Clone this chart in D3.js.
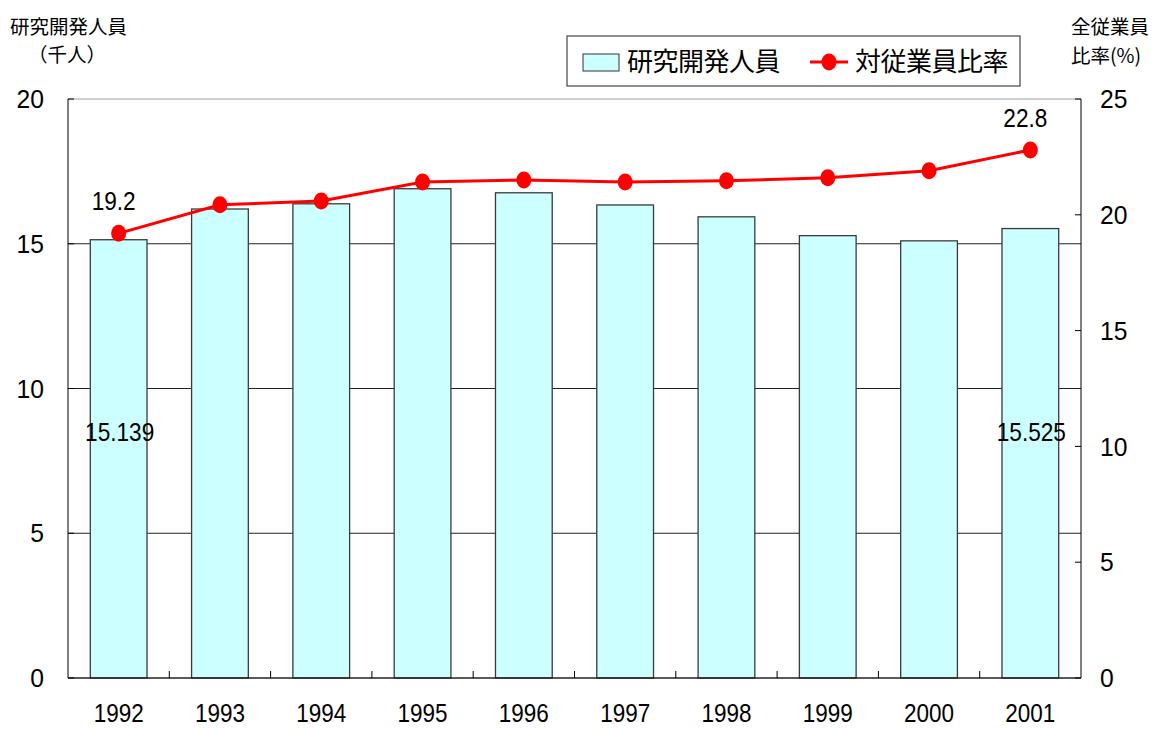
<!DOCTYPE html>
<html>
<head>
<meta charset="utf-8">
<script src="https://cdn.jsdelivr.net/npm/d3@7"></script>
<style>
  html, body { margin: 0; padding: 0; background: #fff; }
  svg text { font-family: "Liberation Sans", Arial, sans-serif; fill: #000; }
  svg text.jp { font-family: "Noto Sans CJK JP", sans-serif; }
</style>
</head>
<body>
<svg id="chart" width="1152" height="729"></svg>
<script>
// 研究開発人員（千人）と対従業員比率（%）
const years = ["1992", "1993", "1994", "1995", "1996", "1997", "1998", "1999", "2000", "2001"];
const staff = [15.139, 16.2, 16.38, 16.9, 16.76, 16.34, 15.93, 15.28, 15.1, 15.525];
const ratio = [19.2, 20.43, 20.6, 21.42, 21.5, 21.42, 21.47, 21.6, 21.9, 22.8];
const leftTicks = [0, 5, 10, 15, 20];
const rightTicks = [0, 5, 10, 15, 20, 25];
// 数値ラベルを表示する年
const labelledStaff = ["1992", "2001"];
const labelledRatio = ["1992", "2001"];

const svg = d3.select("#chart");
const m = { left: 68, right: 1081, top: 99, bottom: 678 };

const x = d3.scaleBand().domain(years).range([m.left, m.right]).paddingInner(0.44).paddingOuter(0.22);
const yL = d3.scaleLinear().domain([0, 20]).range([m.bottom, m.top]);
const yR = d3.scaleLinear().domain([0, 25]).range([m.bottom, m.top]);
const cx = d => x(d) + x.bandwidth() / 2;

// 横方向に少し詰めた文字
function narrowText(parent, tx, ty, str, size, anchor, sx) {
  return parent.append("text")
    .attr("transform", `translate(${tx},${ty}) scale(${sx},1)`)
    .attr("dy", "0.35em").attr("text-anchor", anchor)
    .attr("font-size", size).text(str);
}

// 目盛線
svg.append("g").selectAll("line").data(leftTicks.filter(d => d > 0)).join("line")
  .attr("x1", m.left).attr("x2", m.right)
  .attr("y1", d => yL(d)).attr("y2", d => yL(d))
  .attr("stroke", d => d === 20 ? "#a0a0a0" : "#222").attr("stroke-width", 1);

// 棒グラフ
svg.append("g").selectAll("rect").data(years).join("rect")
  .attr("x", d => x(d)).attr("width", x.bandwidth())
  .attr("y", (d, i) => yL(staff[i])).attr("height", (d, i) => yL(0) - yL(staff[i]))
  .attr("fill", "#CCFFFF").attr("stroke", "#3a3a3a").attr("stroke-width", 1.3);

// 軸線
svg.append("line").attr("x1", m.left).attr("x2", m.left).attr("y1", m.top).attr("y2", m.bottom).attr("stroke", "#000");
svg.append("line").attr("x1", m.right).attr("x2", m.right).attr("y1", m.top).attr("y2", m.bottom).attr("stroke", "#000");
svg.append("line").attr("x1", m.left).attr("x2", m.right).attr("y1", m.bottom).attr("y2", m.bottom).attr("stroke", "#222").attr("stroke-width", 1.3);

// 横軸の区切り目盛
const step = x.step();
svg.append("g").selectAll("line").data(years.slice(1)).join("line")
  .attr("x1", d => x(d) - x.paddingInner() * step / 2).attr("x2", d => x(d) - x.paddingInner() * step / 2)
  .attr("y1", m.bottom).attr("y2", m.bottom - 7).attr("stroke", "#000");

// 左右の軸目盛（内向き）
svg.append("g").selectAll("line").data(leftTicks).join("line")
  .attr("x1", m.left).attr("x2", m.left + 6)
  .attr("y1", d => yL(d)).attr("y2", d => yL(d)).attr("stroke", "#000");
svg.append("g").selectAll("line").data(rightTicks).join("line")
  .attr("x1", m.right - 6).attr("x2", m.right)
  .attr("y1", d => yR(d)).attr("y2", d => yR(d)).attr("stroke", "#000");

// 軸ラベル
const gl = svg.append("g");
leftTicks.forEach(d => narrowText(gl, 44, yL(d), d, 26, "end", 0.95));
const gr = svg.append("g");
rightTicks.forEach(d => narrowText(gr, 1100, yR(d), d, 26, "start", 0.95));
const gx = svg.append("g");
years.forEach(d => narrowText(gx, cx(d), 713, d, 25, "middle", 0.9));

// 折れ線
const line = d3.line().x((d, i) => cx(years[i])).y(d => yR(d));
svg.append("path").datum(ratio).attr("d", line).attr("fill", "none").attr("stroke", "#FF0000").attr("stroke-width", 3);
svg.append("g").selectAll("ellipse").data(ratio).join("ellipse")
  .attr("cx", (d, i) => cx(years[i])).attr("cy", d => yR(d))
  .attr("rx", 7.5).attr("ry", 8.5).attr("fill", "#FF0000");

// 数値ラベル
const gv = svg.append("g");
years.forEach((yr, i) => {
  if (labelledStaff.includes(yr)) {
    narrowText(gv, cx(yr) + 1, yL(8.5), staff[i].toFixed(3), 26, "middle", 0.87);
  }
  if (labelledRatio.includes(yr)) {
    narrowText(gv, cx(yr) - 5, yR(ratio[i]) - 32, ratio[i].toFixed(1), 26, "middle", 0.87);
  }
});

// 軸タイトル
svg.append("text").attr("class", "jp").attr("x", 10).attr("y", 34).attr("font-size", 19.5).text("研究開発人員");
svg.append("text").attr("class", "jp").attr("x", 28).attr("y", 62).attr("font-size", 19.5).text("（千人）");
svg.append("text").attr("class", "jp").attr("x", 1071).attr("y", 34).attr("font-size", 19.5).text("全従業員");
svg.append("text").attr("class", "jp").attr("x", 1071).attr("y", 63).attr("font-size", 19.5).text("比率(%)");

// 凡例
const lg = svg.append("g");
lg.append("rect").attr("x", 567).attr("y", 36).attr("width", 453).attr("height", 50).attr("fill", "#fff").attr("stroke", "#444").attr("stroke-width", 1.2);
lg.append("rect").attr("x", 583).attr("y", 54).attr("width", 36).attr("height", 17).attr("fill", "#CCFFFF").attr("stroke", "#333");
lg.append("text").attr("class", "jp").attr("x", 627).attr("y", 62).attr("dy", "0.35em").attr("font-size", 26).attr("letter-spacing", -0.5).text("研究開発人員");
lg.append("line").attr("x1", 810).attr("x2", 848).attr("y1", 62).attr("y2", 62).attr("stroke", "#FF0000").attr("stroke-width", 3);
lg.append("ellipse").attr("cx", 829).attr("cy", 62).attr("rx", 7.5).attr("ry", 8.5).attr("fill", "#FF0000");
lg.append("text").attr("class", "jp").attr("x", 855).attr("y", 62).attr("dy", "0.35em").attr("font-size", 26).attr("letter-spacing", -0.5).text("対従業員比率");
</script>
</body>
</html>
